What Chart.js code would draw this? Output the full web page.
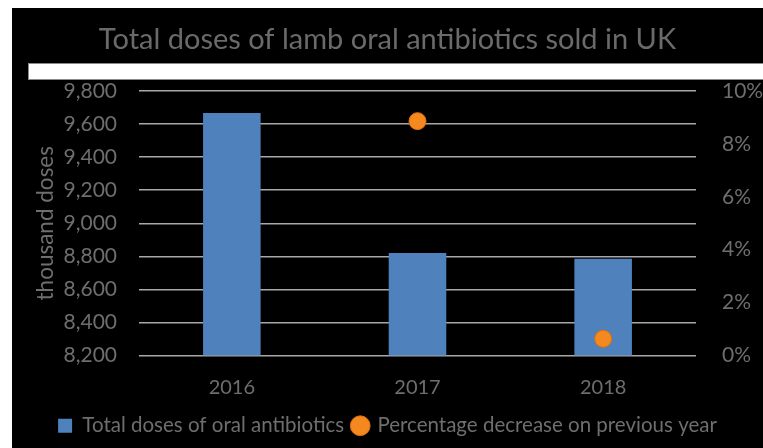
<!DOCTYPE html>
<html>
<head>
<meta charset="utf-8">
<script src="https://cdn.jsdelivr.net/npm/chart.js@4/dist/chart.umd.min.js"></script>
<style>
  html, body { margin: 0; padding: 0; background: #ffffff; width: 763px; height: 448px; overflow: hidden; }
  #wrap { position: absolute; left: 12px; top: 8px; width: 751px; height: 440px; background: #000000; }
  #c { position: absolute; left: 0; top: 0; }
  #band { position: absolute; left: 28px; top: 63px; width: 735px; height: 15px; background: #ffffff; border-top: 1px solid #8a8a8a; border-bottom: 1px solid #8a8a8a; border-left: 1px solid #8a8a8a; }
</style>
</head>
<body>
<div id="wrap"><canvas id="c" width="751" height="440"></canvas></div>
<div id="band"></div>
<script>
const categories = ['2016', '2017', '2018'];
const totalDoses = [9667, 8820, 8785];
const pctDecrease = [null, 0.0886, 0.0063];
const leftTicks = [8200, 8400, 8600, 8800, 9000, 9200, 9400, 9600, 9800];
const rightTicks = [0, 0.02, 0.04, 0.06, 0.08, 0.10];

const textGray = '#6e6e6e';
const FONT = 'Lato, "Open Sans", sans-serif';

new Chart(document.getElementById('c'), {
  data: {
    labels: categories,
    datasets: [
      {
        type: 'line',
        label: 'Percentage decrease on previous year',
        data: pctDecrease,
        yAxisID: 'y1',
        showLine: false,
        pointRadius: 8.5,
        pointHoverRadius: 8.5,
        pointBackgroundColor: '#f5881f',
        pointBorderColor: '#d9700e',
        pointBorderWidth: 1,
        backgroundColor: '#f5881f',
        borderColor: '#f5881f',
        pointStyle: 'circle',
        order: 0
      },
      {
        type: 'bar',
        label: 'Total doses of oral antibiotics',
        data: totalDoses,
        yAxisID: 'y',
        backgroundColor: '#4f81bd',
        borderColor: '#45719f',
        borderWidth: 0,
        categoryPercentage: 1,
        barPercentage: 0.31,
        pointStyle: 'rect',
        order: 1
      }
    ]
  },
  options: {
    responsive: false,
    animation: false,
    devicePixelRatio: 1,
    layout: { padding: { left: 0, right: 0, top: 0, bottom: 2 } },
    plugins: {
      title: {
        display: true,
        text: 'Total doses of lamb oral antibiotics sold in UK',
        color: '#6a6a6a',
        font: { family: FONT, size: 29, weight: 'normal' },
        padding: { top: 14.6, bottom: 33.6 }
      },
      legend: {
        display: true,
        position: 'bottom',
        reverse: true,
        labels: {
          color: textGray,
          font: { family: FONT, size: 20.5 },
          usePointStyle: true,
          boxWidth: 14,
          boxHeight: 14,
          padding: 9
        }
      },
      tooltip: { enabled: false }
    },
    scales: {
      x: {
        grid: { display: false, drawTicks: false },
        border: { display: false },
        ticks: { color: textGray, font: { family: FONT, size: 20 }, padding: 20 },
        afterFit: (s) => { s.height = 51; }
      },
      y: {
        position: 'left',
        min: 8200,
        max: 9800,
        afterBuildTicks: (s) => { s.ticks = leftTicks.map(v => ({ value: v })); },
        grid: { color: '#a8a8a8', lineWidth: 1.5, drawTicks: false },
        border: { display: false },
        ticks: {
          color: textGray,
          font: { family: FONT, size: 21 },
          padding: 22,
          callback: (v) => v.toLocaleString('en-US')
        },
        title: {
          display: true,
          text: 'thousand doses',
          color: textGray,
          font: { family: FONT, size: 22.5 },
          padding: { top: 20, bottom: 0 }
        },
        afterFit: (s) => { s.width = 127; }
      },
      y1: {
        position: 'right',
        min: 0,
        max: 0.10,
        afterBuildTicks: (s) => { s.ticks = rightTicks.map(v => ({ value: v })); },
        grid: { display: false, drawTicks: false },
        border: { display: false },
        ticks: {
          color: textGray,
          font: { family: FONT, size: 21 },
          padding: 26,
          callback: (v) => Math.round(v * 100) + '%'
        },
        afterFit: (s) => { s.width = 67; }
      }
    }
  }
});
</script>
</body>
</html>
